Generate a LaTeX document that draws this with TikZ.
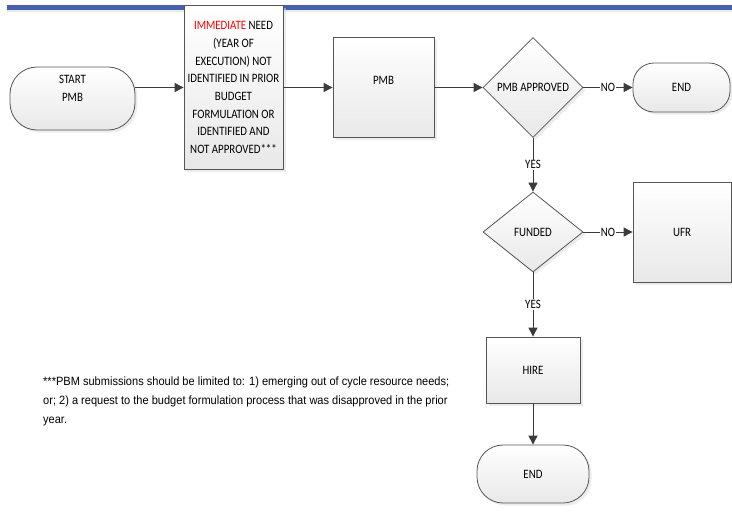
\documentclass[tikz,border=0pt]{standalone}
\usepackage{fontspec}
\setmainfont[FakeStretch=0.85]{Carlito}
\newfontfamily\notefont[FakeStretch=0.92]{Liberation Sans}
\usetikzlibrary{arrows.meta,shapes.geometric,shadows}
\definecolor{barblue}{RGB}{70,96,176}
\definecolor{linegray}{RGB}{60,60,60}
\definecolor{edgegray}{RGB}{85,85,85}
\begin{document}
\begin{tikzpicture}[x=1pt,y=-1pt,
  font=\fontsize{12.8}{17.7}\selectfont,
  base/.style={draw=edgegray, line width=0.8pt, top color=white, bottom color=gray!18,
    drop shadow={shadow xshift=2.5pt,shadow yshift=-2.5pt,fill=gray!30}, inner sep=0pt},
  box/.style={base, rectangle},
  term/.style={base, rectangle},
  dec/.style={base, diamond, aspect=1},
  conn/.style={draw=linegray, line width=0.9pt, -{Triangle[length=9pt,width=9pt]}},
  lab/.style={fill=white, inner sep=1pt}]
\useasboundingbox (0,0) rectangle (732,512);
\fill[gray!15] (7,10) rectangle (732,12);
\fill[barblue] (7,5) rectangle (732,10);

\node[term, minimum width=125pt, minimum height=63pt, rounded corners=27pt,
  label={[yshift=10pt,align=center]center:START\\PMB}] (start) at (72.5,98.5) {};
\node[box, minimum width=99pt, minimum height=164pt, align=center] (b1) at (233.5,87.5)
  {\textcolor{red}{IMMEDIATE} NEED\\(YEAR OF\\EXECUTION) NOT\\IDENTIFIED IN PRIOR\\BUDGET\\FORMULATION OR\\IDENTIFIED AND\\NOT APPROVED***};
\node[box, minimum width=101pt, minimum height=100pt,
  label={[yshift=7pt]center:PMB}] (pmb) at (383.5,87.5) {};
\node[dec, minimum width=100pt, minimum height=100pt] (d1) at (533,87.5) {PMB APPROVED};
\node[term, minimum width=97pt, minimum height=49pt, rounded corners=21pt] (end1) at (681.5,87.5) {END};
\node[dec, minimum width=100pt, minimum height=80pt, aspect=1.25] (d2) at (533,232) {FUNDED};
\node[box, minimum width=98pt, minimum height=100pt] (ufr) at (682,232) {UFR};
\node[box, minimum width=94pt, minimum height=66pt] (hire) at (533,370) {HIRE};
\node[term, minimum width=112pt, minimum height=58pt, rounded corners=26pt] (end2) at (533,474) {END};

\node[font=\notefont\fontsize{12}{19}\selectfont, align=left, anchor=north west, inner sep=0pt] (note) at (43,377)
  {***PBM submissions should be limited to: 1) emerging out of cycle resource needs;\\
   or; 2) a request to the budget formulation process that was disapproved in the prior\\
   year.};

\draw[conn] (start.east |- b1.west) -- (b1.west);
\draw[conn] (b1.east) -- (pmb.west);
\draw[conn] (pmb.east) -- (d1.west);
\draw[conn] (d1.east) -- node[lab]{NO} (end1.west);
\draw[conn] (d1.south) -- node[lab]{YES} (d2.north);
\draw[conn] (d2.east) -- node[lab]{NO} (ufr.west);
\draw[conn] (d2.south) -- node[lab]{YES} (hire.north);
\draw[conn] (hire.south) -- (end2.north);
\end{tikzpicture}
\end{document}
